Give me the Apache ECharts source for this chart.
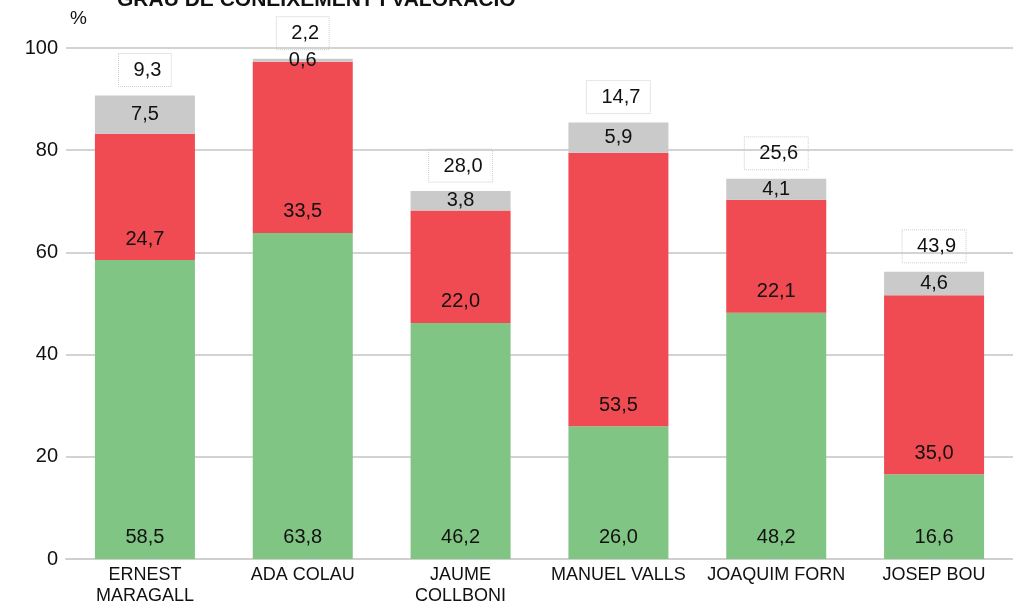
<!DOCTYPE html>
<html>
<head>
    <meta charset="utf-8">
    <title>Grau de coneixement i valoració</title>
    <script src="https://cdn.jsdelivr.net/npm/echarts@6/dist/echarts.min.js"></script>
    <style>
        html, body { margin: 0; padding: 0; background: #fff; }
        #chart { width: 1013px; height: 607px; }
    </style>
</head>
<body>
    <div id="chart"></div>
    <script>
        // candidats
        var categories = ['ERNEST\nMARAGALL', 'ADA COLAU', 'JAUME\nCOLLBONI', 'MANUEL VALLS', 'JOAQUIM FORN', 'JOSEP BOU'];
        // valors (%)
        var valoraBe = [58.5, 63.8, 46.2, 26.0, 48.2, 16.6];
        var valoraMal = [24.7, 33.5, 22.0, 53.5, 22.1, 35.0];
        var nsnc = [7.5, 0.6, 3.8, 5.9, 4.1, 4.6];
        var noConeix = [9.3, 2.2, 28.0, 14.7, 25.6, 43.9];
        var yTicks = [0, 20, 40, 60, 80, 100];

        var fontFam = '"Liberation Sans", Arial, sans-serif';

        function fmt(p) {
            return p.value.toFixed(1).replace('.', ',');
        }

        var chart = echarts.init(document.getElementById('chart'));

        var option = {
            animation: false,
            title: {
                text: 'GRAU DE CONEIXEMENT I VALORACIÓ',
                left: 112,
                top: -15,
                textStyle: { fontFamily: fontFam, fontSize: 21, fontWeight: 'bold', color: '#111' }
            },
            grid: { left: 66, right: -8, top: 48, bottom: 45, containLabel: false },
            xAxis: {
                type: 'category',
                data: categories,
                axisTick: { show: false },
                axisLine: { lineStyle: { color: '#cfcfcf', width: 2 } },
                axisLabel: {
                    fontFamily: fontFam, fontSize: 18, color: '#111',
                    lineHeight: 21, margin: 6, interval: 0
                }
            },
            yAxis: {
                type: 'value',
                min: yTicks[0],
                max: yTicks[yTicks.length - 1],
                interval: 20,
                name: '%',
                nameLocation: 'end',
                nameGap: 20,
                nameTextStyle: { fontFamily: fontFam, fontSize: 19, color: '#111', align: 'left', padding: [0, 0, 0, 4] },
                axisLine: { show: false },
                axisTick: { show: false },
                splitLine: { lineStyle: { color: '#d3d3d3', width: 2 } },
                axisLabel: { fontFamily: fontFam, fontSize: 20, color: '#111', margin: 8 }
            },
            series: [
                {
                    name: 'Valora bé',
                    type: 'bar',
                    stack: 'total',
                    barWidth: 100,
                    data: valoraBe,
                    itemStyle: { color: '#80C584' },
                    label: {
                        show: true, position: 'insideBottom', distance: 12,
                        fontFamily: fontFam, fontSize: 20, color: '#111', formatter: fmt
                    }
                },
                {
                    name: 'Valora malament',
                    type: 'bar',
                    stack: 'total',
                    data: valoraMal,
                    itemStyle: { color: '#F04A52' },
                    label: {
                        show: true, position: 'insideBottom', distance: 11,
                        fontFamily: fontFam, fontSize: 20, color: '#111', formatter: fmt
                    }
                },
                {
                    name: 'NS/NC',
                    type: 'bar',
                    stack: 'total',
                    data: nsnc,
                    itemStyle: { color: '#CACACA' },
                    label: {
                        show: true, position: 'inside',
                        fontFamily: fontFam, fontSize: 20, color: '#111', formatter: fmt
                    }
                },
                {
                    name: 'No el coneix',
                    type: 'bar',
                    stack: 'total',
                    data: noConeix,
                    itemStyle: { color: 'rgba(0,0,0,0)' },
                    clip: false,
                    label: {
                        show: true, position: 'insideBottom', distance: 9,
                        fontFamily: fontFam, fontSize: 20, color: '#111', formatter: fmt,
                        borderColor: '#cccccc', borderWidth: 1, borderType: 'dotted',
                        padding: [7, 10, 6, 15]
                    }
                }
            ]
        };

        chart.setOption(option);
    </script>
</body>
</html>
